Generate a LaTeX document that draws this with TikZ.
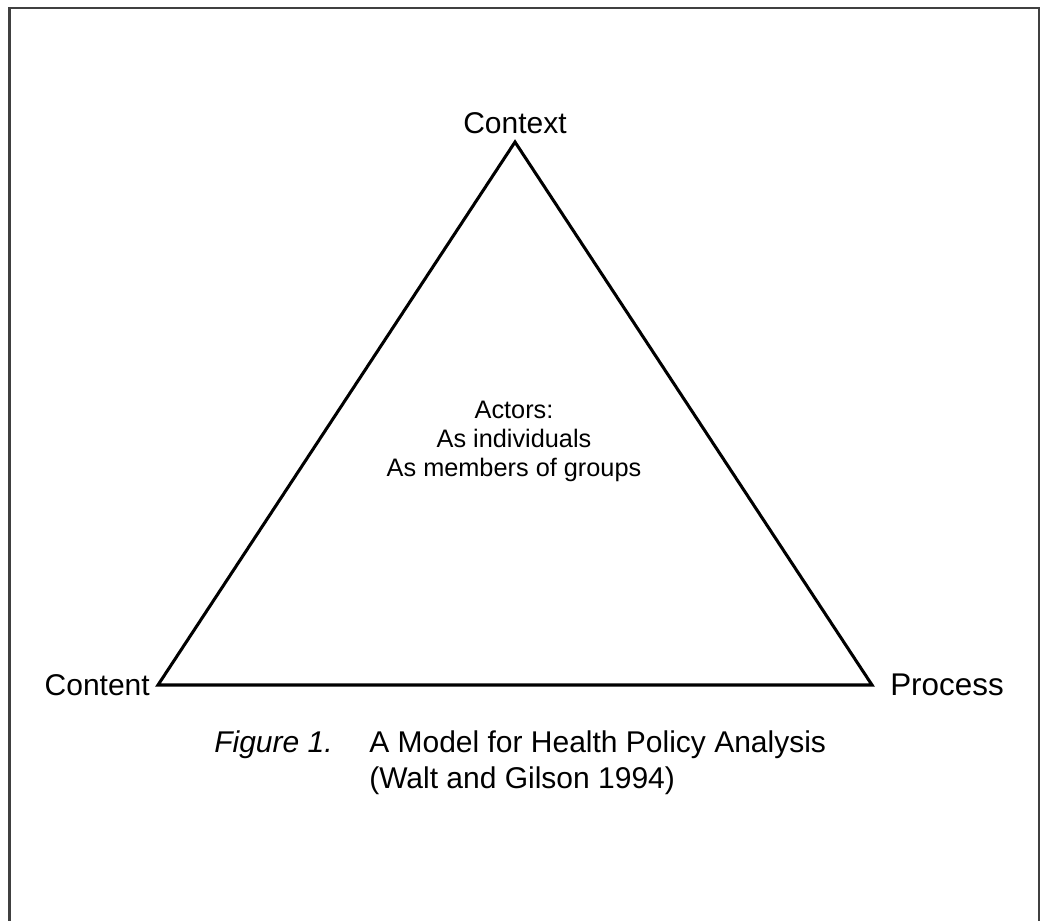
\documentclass[tikz,border=0pt]{standalone}
\usepackage{fontspec}
\setmainfont{Liberation Sans}
\usetikzlibrary{positioning}

\begin{document}
\begin{tikzpicture}[x=1.5cm,y=-1.5cm,font=\fontsize{12.8}{15.4}\selectfont]
            \useasboundingbox (0,0) rectangle (10.4,9.2);
            \draw[black!75,line width=1pt] (0.095,9.4) -- (0.095,0.08) -- (10.395,0.08) -- (10.395,9.4);
            \coordinate (ctx) at (5.15,1.42);
            \coordinate (cnt) at (1.58,6.85);
            \coordinate (prc) at (8.72,6.85);
            \draw[line width=1.3pt] (ctx) -- (prc) -- (cnt) -- cycle;
            \node (context) [above=0mm of ctx] {Context};
            \node (content) [left=0mm of cnt] {Content};
            \node (process) [right=1.5mm of prc,font=\fontsize{13.4}{15.4}\selectfont] {Process};
            \node (actors) [align=center,font=\fontsize{10.8}{12.4}\selectfont] at (5.14,4.41) {Actors:\\As individuals\\As members of groups};
            \node (caption) [anchor=north west,align=left] at (3.61,7.22) {A Model for Health Policy Analysis\\(Walt and Gilson 1994)};
            \node (fignum) [anchor=north west] at (2.06,7.22) {\itshape Figure 1.};
        \end{tikzpicture}
\end{document}
